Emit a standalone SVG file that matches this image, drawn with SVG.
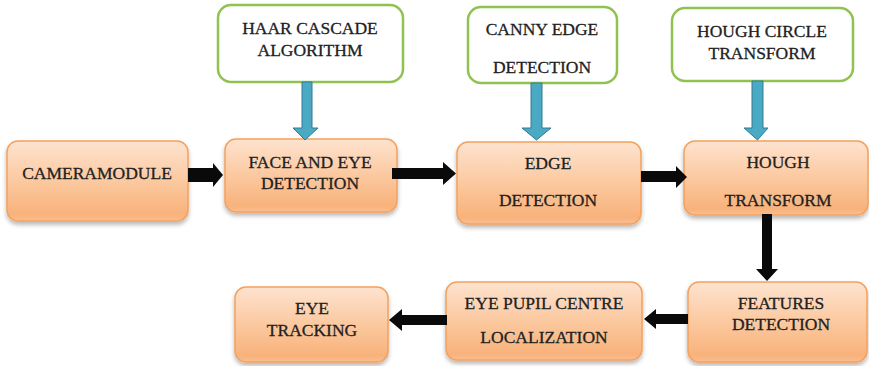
<svg xmlns="http://www.w3.org/2000/svg" width="869" height="366" viewBox="0 0 869 366">
  <defs>
    <linearGradient id="orangeFill" x1="0" y1="0" x2="0" y2="1">
      <stop offset="0" stop-color="#fee3cf"/>
      <stop offset="0.55" stop-color="#fbc69b"/>
      <stop offset="0.92" stop-color="#f8b27b"/>
      <stop offset="1" stop-color="#f9be91"/>
    </linearGradient>
    <filter id="shadow" x="-10%" y="-10%" width="120%" height="130%">
      <feDropShadow dx="0" dy="3" stdDeviation="2" flood-color="#000" flood-opacity="0.28"/>
    </filter>
    <style>
      .step { fill: url(#orangeFill); stroke: #f4a15d; stroke-width: 1.5; filter: url(#shadow); }
      .tool { fill: #ffffff; stroke: #8fc24f; stroke-width: 2.5; }
      .label { font-family: "Liberation Serif", "Times New Roman", serif; font-size: 17.5px; fill: #222222; stroke: #222222; stroke-width: 0.3; text-anchor: middle; dominant-baseline: central; }
      .flow { fill: #0a0a0a; }
      .feed { fill: #4aaac4; stroke: #327b92; stroke-width: 1; }
    </style>
  </defs>

  <rect width="869" height="366" fill="#ffffff"/>

  <!-- method boxes (top row) -->
  <g id="haar">
    <rect class="tool" x="218" y="5" width="185" height="77" rx="13"/>
    <text class="label" x="310" y="28">HAAR CASCADE</text>
    <text class="label" x="310" y="50">ALGORITHM</text>
  </g>
  <g id="canny">
    <rect class="tool" x="468" y="7" width="149" height="76" rx="13"/>
    <text class="label" x="542" y="29">CANNY EDGE</text>
    <text class="label" x="542" y="67">DETECTION</text>
  </g>
  <g id="hough-circle">
    <rect class="tool" x="672" y="8" width="181" height="73" rx="13"/>
    <text class="label" x="762" y="31">HOUGH CIRCLE</text>
    <text class="label" x="762" y="53">TRANSFORM</text>
  </g>

  <!-- processing stages -->
  <g id="camera">
    <rect class="step" x="7" y="141" width="181" height="80" rx="11"/>
    <text class="label" x="97" y="173">CAMERAMODULE</text>
  </g>
  <g id="face-eye">
    <rect class="step" x="225" y="139" width="172" height="73" rx="11"/>
    <text class="label" x="310" y="162">FACE AND EYE</text>
    <text class="label" x="310" y="183">DETECTION</text>
  </g>
  <g id="edge">
    <rect class="step" x="457" y="142" width="184" height="82" rx="11"/>
    <text class="label" x="548" y="163">EDGE</text>
    <text class="label" x="548" y="200">DETECTION</text>
  </g>
  <g id="hough">
    <rect class="step" x="684" y="141" width="184" height="74" rx="11"/>
    <text class="label" x="778" y="162">HOUGH</text>
    <text class="label" x="778" y="200">TRANSFORM</text>
  </g>
  <g id="features">
    <rect class="step" x="688" y="282" width="179" height="80" rx="11"/>
    <text class="label" x="781" y="303">FEATURES</text>
    <text class="label" x="781" y="324">DETECTION</text>
  </g>
  <g id="pupil">
    <rect class="step" x="446" y="282" width="196" height="78" rx="11"/>
    <text class="label" x="544" y="303">EYE PUPIL CENTRE</text>
    <text class="label" x="544" y="337">LOCALIZATION</text>
  </g>
  <g id="tracking">
    <rect class="step" x="235" y="287" width="153" height="75" rx="11"/>
    <text class="label" x="312" y="308">EYE</text>
    <text class="label" x="312" y="330">TRACKING</text>
  </g>

  <!-- connectors -->
  <g id="connectors">
    <!-- method feeds (block arrows pointing down) -->
    <polygon class="feed" points="302,82 312,82 312,128 318,128 305,140 293,128 302,128"/>
    <polygon class="feed" points="531,83 542,83 542,128 551,128 536.5,140 522,128 531,128"/>
    <polygon class="feed" points="752,81 763,81 763,128 768,128 757.5,140 744,128 752,128"/>

    <!-- main flow -->
    <polygon class="flow" points="188,168 213,168 213,163 223,175 213,187 213,182 188,182"/>
    <polygon class="flow" points="392,168 443,168 443,162 456,173.5 443,185 443,179 392,179"/>
    <polygon class="flow" points="641,171 676,171 676,166 687,177 676,188 676,182 641,182"/>
    <polygon class="flow" points="762,214 772,214 772,269 778,269 767,281 756,269 762,269"/>
    <polygon class="flow" points="688,314 656,314 656,309 644,319 656,329 656,324 688,324"/>
    <polygon class="flow" points="447,315 402,315 402,309 389,320 402,331 402,325 447,325"/>
  </g>
</svg>
